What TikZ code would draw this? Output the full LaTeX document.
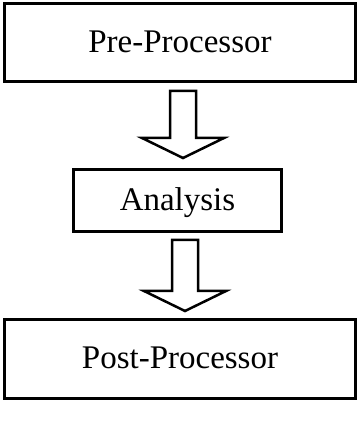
\documentclass[tikz,border=0pt]{standalone}
\usepackage{fontspec}
\setmainfont{Liberation Serif}
\usetikzlibrary{calc}
\tikzset{
  box/.style={draw=black, line width=2.5pt, fill=white, inner sep=0pt, outer sep=0pt,
    font=\fontsize{33}{37}\selectfont, align=center, anchor=base},
  blockarrow/.style={draw=black, line width=2.5pt, fill=white, line join=miter}
}
\newcommand\blockarr[2]{%
  \draw[blockarrow] ($(#1)+(-13,0)$) -- ($(#2)+(-13,20)$) -- ($(#2)+(-41,20)$) -- (#2)
    -- ($(#2)+(41,20)$) -- ($(#2)+(13,20)$) -- ($(#1)+(13,0)$) -- cycle;}
\begin{document}
\begin{tikzpicture}[x=1pt,y=1pt]
  \useasboundingbox (0,0) rectangle (361,425);
  \node[box, minimum width=351pt, text height=49pt, text depth=29pt]
    (pre) at (180,372.5) {Pre-Processor};
  \node[box, minimum width=208pt, text height=41pt, text depth=21pt]
    (ana) at (177.5,214.5) {Analysis};
  \node[box, minimum width=351pt, text height=49pt, text depth=30pt]
    (post) at (180,56.5) {Post-Processor};
  \coordinate (a1s) at ($(pre.south)+(3,-9.5)$);
  \coordinate (a1e) at ($(ana.north)+(5.5,11.5)$);
  \coordinate (a2s) at ($(ana.south)+(7.5,-8.5)$);
  \coordinate (a2e) at ($(post.north)+(5,8.5)$);
  \blockarr{a1s}{a1e}
  \blockarr{a2s}{a2e}
\end{tikzpicture}
\end{document}
